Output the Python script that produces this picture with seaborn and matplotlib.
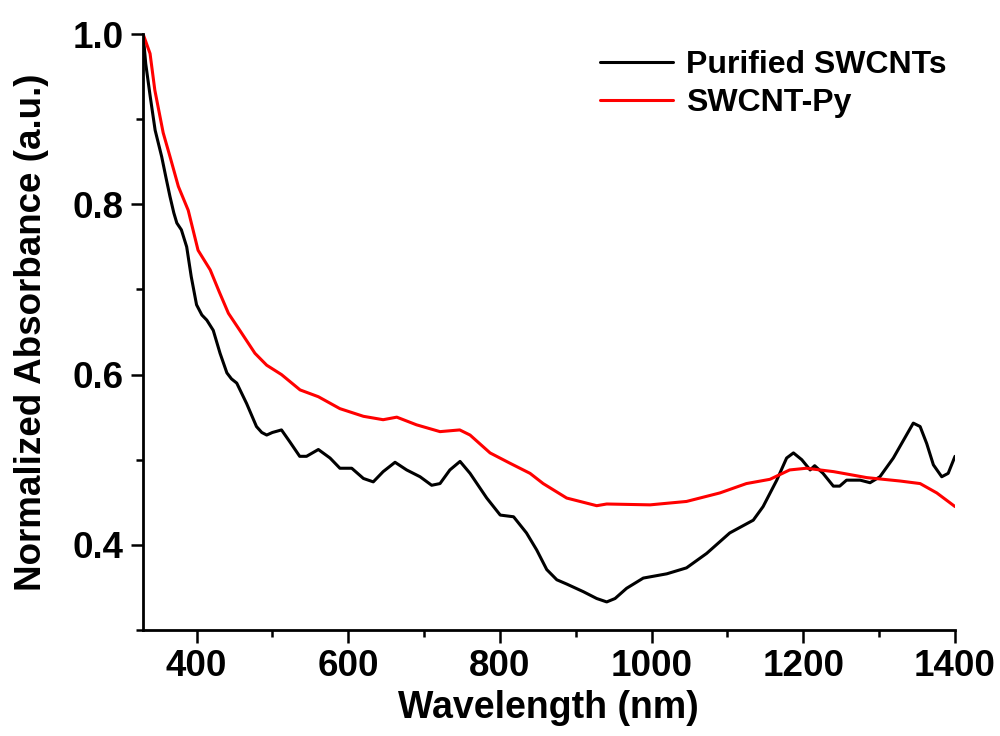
import numpy as np
import pandas as pd
import matplotlib
matplotlib.use("Agg")
import matplotlib.pyplot as plt
import seaborn as sns
from matplotlib.ticker import MultipleLocator

# Purified SWCNTs (black)
wl_pure = [329.5, 333, 339, 345.4, 354, 360, 365, 370, 374, 380, 387, 393, 400, 407,
           413.5, 422, 431, 440, 446, 453, 466, 479, 486,
           492.5, 500, 512, 523, 536, 545, 560.6, 576, 589, 604.6, 620, 633, 646, 661.7, 677,
           694.7, 710, 721, 734, 747.4, 760.6, 782.6, 800.4, 818, 835, 848.5, 861.7, 875,
           888, 910, 927.6, 940.8, 951.8, 967, 989, 1020, 1046, 1072.6, 1103, 1134, 1147,
           1165, 1178, 1187, 1198, 1209, 1215, 1226, 1239.6, 1248, 1257, 1275, 1288, 1301,
           1318.7, 1336, 1345, 1354, 1362.7, 1371.5, 1382.5, 1391, 1400]
abs_pure = [1.0, 0.965, 0.926, 0.887, 0.856, 0.830, 0.809, 0.790, 0.778, 0.770, 0.750,
            0.715, 0.682, 0.670, 0.664, 0.652, 0.625, 0.602, 0.595, 0.590, 0.566, 0.539,
            0.532, 0.529, 0.532, 0.535, 0.521, 0.504, 0.504, 0.512, 0.502, 0.490,
            0.490, 0.478, 0.474, 0.486, 0.497, 0.488, 0.480, 0.470, 0.472, 0.488, 0.498,
            0.484, 0.455, 0.435, 0.433, 0.414, 0.394, 0.371, 0.359, 0.354, 0.345, 0.337,
            0.333, 0.337, 0.349, 0.361, 0.366, 0.373, 0.390, 0.414, 0.429, 0.445, 0.476,
            0.502, 0.508, 0.500, 0.488, 0.493, 0.484, 0.469, 0.469, 0.476, 0.476, 0.473,
            0.480, 0.502, 0.529, 0.543, 0.539, 0.519, 0.494, 0.480, 0.484, 0.504]

# SWCNT-Py (red)
wl_py = [329.5, 338.7, 345, 356, 365, 376, 389, 402, 418, 430, 442, 457, 477, 492.5, 512,
         536.5, 560.6, 589, 620, 646, 664, 690, 721, 747, 760.6, 787, 813, 839.7, 857,
         888, 927.6, 940.8, 998, 1046, 1090, 1125, 1156, 1182, 1204, 1240, 1283.6,
         1327.5, 1354, 1376, 1400]
abs_py = [1.0, 0.977, 0.934, 0.884, 0.856, 0.821, 0.793, 0.746, 0.723, 0.697, 0.672, 0.652,
          0.625, 0.611, 0.600, 0.582, 0.574, 0.560, 0.551, 0.547, 0.550, 0.541, 0.533,
          0.535, 0.529, 0.508, 0.496, 0.484, 0.472, 0.455, 0.446, 0.448, 0.447, 0.451,
          0.461, 0.472, 0.477, 0.488, 0.490, 0.486, 0.479, 0.475, 0.472, 0.461, 0.445]

series_names = ["Purified SWCNTs", "SWCNT-Py"]
colors = ["#000000", "#ff0000"]

df = pd.concat([
    pd.DataFrame({"Wavelength": wl_pure, "Absorbance": abs_pure, "Sample": series_names[0]}),
    pd.DataFrame({"Wavelength": wl_py, "Absorbance": abs_py, "Sample": series_names[1]}),
])

sns.set_style("ticks")
plt.rcParams["font.family"] = ["Liberation Sans", "DejaVu Sans"]
plt.rcParams["font.weight"] = "bold"
for k in ["text.color", "axes.labelcolor", "xtick.color", "ytick.color", "axes.edgecolor"]:
    plt.rcParams[k] = "black"

fig = plt.figure(figsize=(10, 7.36), dpi=100)
ax = fig.add_axes([0.1427, 0.144, 0.955 - 0.1427, 0.9538 - 0.144])

sns.lineplot(data=df, x="Wavelength", y="Absorbance", hue="Sample",
             palette=dict(zip(series_names, colors)), linewidth=2.2,
             sort=False, estimator=None, ax=ax)

ax.set_xlim(329, 1400)
ax.set_ylim(0.3, 1.0)
ax.xaxis.set_major_locator(MultipleLocator(200))
ax.xaxis.set_minor_locator(MultipleLocator(100))
ax.yaxis.set_minor_locator(MultipleLocator(0.1))
ax.set_yticks([0.4, 0.6, 0.8, 1.0])
ax.set_yticklabels(["0.4", "0.6", "0.8", "1.0"])

for s in ["top", "right"]:
    ax.spines[s].set_visible(False)
for s in ["left", "bottom"]:
    ax.spines[s].set_linewidth(2.0)
    ax.spines[s].set_color("black")

ax.tick_params(which="major", direction="out", length=9, width=1.8,
               labelsize=26.5, pad=5, colors="black")
ax.tick_params(which="minor", direction="out", length=5, width=1.8, colors="black")
for lab in ax.get_xticklabels() + ax.get_yticklabels():
    lab.set_fontweight("bold")

ax.set_xlabel("Wavelength (nm)", fontsize=27, fontweight="bold", labelpad=4, color="black")
ax.set_ylabel("Normalized Absorbance (a.u.)", fontsize=26.5, fontweight="bold", labelpad=17, color="black")

leg = ax.legend(loc="upper right", frameon=False, fontsize=23,
                handlelength=2.3, handletextpad=0.4, labelspacing=0.25,
                bbox_to_anchor=(1.013, 1.005), borderaxespad=0.2)
for t in leg.get_texts():
    t.set_fontweight("bold")
    t.set_color("black")
for l in leg.get_lines():
    l.set_linewidth(2.2)

fig.savefig("out.png", dpi=100)
